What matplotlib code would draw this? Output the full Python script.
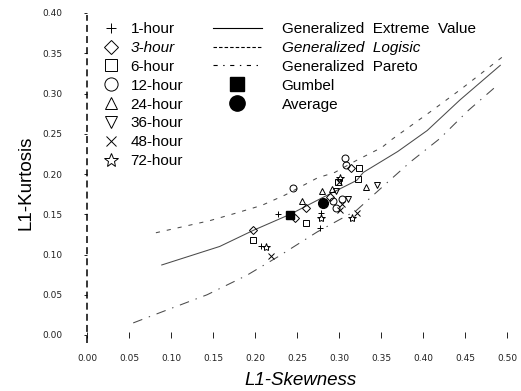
import matplotlib
matplotlib.use("Agg")
import matplotlib.pyplot as plt
from matplotlib.lines import Line2D

plt.rcParams['font.family'] = ['Liberation Sans', 'DejaVu Sans']
plt.rcParams['lines.scale_dashes'] = False

# ---- data ----
durations = ['1-hour', '3-hour', '6-hour', '12-hour', '24-hour', '36-hour', '48-hour', '72-hour']
h1_x = [0.227, 0.207, 0.279, 0.277]
h1_y = [0.150, 0.110, 0.151, 0.133]
h3_x = [0.198, 0.261, 0.314, 0.248, 0.289]
h3_y = [0.130, 0.158, 0.208, 0.145, 0.171]
h6_x = [0.198, 0.261, 0.324, 0.323, 0.299]
h6_y = [0.118, 0.139, 0.207, 0.194, 0.190]
h12_x = [0.245, 0.307, 0.308, 0.293, 0.304, 0.296]
h12_y = [0.182, 0.220, 0.211, 0.167, 0.169, 0.158]
h24_x = [0.256, 0.280, 0.332, 0.292]
h24_y = [0.167, 0.179, 0.184, 0.181]
h36_x = [0.345, 0.311, 0.296]
h36_y = [0.186, 0.169, 0.179]
h48_x = [0.219, 0.300, 0.321, 0.304, 0.301]
h48_y = [0.098, 0.190, 0.151, 0.163, 0.155]
h72_x = [0.213, 0.279, 0.315, 0.301]
h72_y = [0.109, 0.145, 0.145, 0.195]

gumbel_x = [0.242]
gumbel_y = [0.149]
average_x = [0.281]
average_y = [0.164]

gev_x = [0.089, 0.158, 0.198, 0.242, 0.281, 0.321, 0.329, 0.370, 0.405, 0.444, 0.492]
gev_y = [0.087, 0.110, 0.130, 0.150, 0.171, 0.192, 0.202, 0.228, 0.254, 0.292, 0.335]
glo_x = [0.082, 0.146, 0.176, 0.208, 0.236, 0.274, 0.295, 0.321, 0.351, 0.363, 0.411, 0.446, 0.494]
glo_y = [0.127, 0.142, 0.151, 0.161, 0.174, 0.195, 0.202, 0.217, 0.233, 0.243, 0.279, 0.306, 0.345]
gpa_x = [0.055, 0.095, 0.143, 0.190, 0.227, 0.274, 0.321, 0.357, 0.385, 0.420, 0.454, 0.486]
gpa_y = [0.015, 0.031, 0.050, 0.074, 0.097, 0.128, 0.155, 0.189, 0.215, 0.244, 0.279, 0.308]

curve_labels = ['Generalized  Extreme  Value', 'Generalized  Logisic', 'Generalized  Pareto', 'Gumbel', 'Average']
x_ticks = [0.00, 0.05, 0.10, 0.15, 0.20, 0.25, 0.30, 0.35, 0.40, 0.45, 0.50]
y_ticks = [0.00, 0.05, 0.10, 0.15, 0.20, 0.25, 0.30, 0.35, 0.40]

# ---- figure ----
W, H = 521, 391
fig = plt.figure(figsize=(W / 100, H / 100), dpi=100)
ax = fig.add_axes([87 / W, 1 - 335 / H, (507 - 87) / W, (335 - 13) / H])
ax.set_xlim(0, 0.5)
ax.set_ylim(0, 0.4)

lc = '#4a4a4a'
ax.plot(gev_x, gev_y, color=lc, lw=0.75, ls='-')
ax.plot(glo_x, glo_y, color=lc, lw=0.75, dashes=(3, 5))
ax.plot(gpa_x, gpa_y, color=lc, lw=0.75, dashes=(7, 5, 1, 5))

mk = dict(color='black', markerfacecolor='none', linestyle='none', markeredgewidth=0.7)
series = [
    (h1_x, h1_y, '+', 5.0, 6.5),
    (h3_x, h3_y, 'D', 4.0, 7.5),
    (h6_x, h6_y, 's', 5.0, 9.0),
    (h12_x, h12_y, 'o', 5.0, 9.5),
    (h24_x, h24_y, '^', 5.0, 8.0),
    (h36_x, h36_y, 'v', 5.0, 8.0),
    (h48_x, h48_y, 'x', 5.0, 7.0),
    (h72_x, h72_y, '*', 6.0, 10.0),
]
dur_handles = []
for (xs, ys, m, s, ls_), lab in zip(series, durations):
    ax.plot(xs, ys, marker=m, markersize=s, **mk)
    dur_handles.append(Line2D([], [], marker=m, markersize=ls_, **mk))

ax.plot(gumbel_x, gumbel_y, marker='s', markersize=5.5, color='black', linestyle='none')
ax.plot(average_x, average_y, marker='o', markersize=7, color='black', linestyle='none')

# axes styling
for sp in ['top', 'right', 'bottom', 'left']:
    ax.spines[sp].set_visible(False)
ax.plot([0, 0], [-0.01, 0.398], color='black', lw=1.1, dashes=(5, 3), clip_on=False)

ax.set_xticks(x_ticks)
ax.set_xticklabels([f'{v:.2f}' for v in x_ticks])
ax.set_yticks(y_ticks)
ax.set_yticklabels([f'{v:.2f}' for v in y_ticks])
ax.tick_params(axis='x', direction='inout', length=5, width=0.7, pad=11, labelsize=6.5, colors='#222222')
ax.tick_params(axis='y', direction='out', length=2.5, width=0.7, pad=15, labelsize=6.5, colors='#222222')
for t in ax.get_xticklabels() + ax.get_yticklabels():
    t.set_family('DejaVu Sans')

ax.set_xlabel('L1-Skewness', fontsize=13.5, style='italic')
ax.set_ylabel('L1-Kurtosis', fontsize=13.5)
ax.xaxis.set_label_coords((301 - 87) / 420, (335 - 372) / 322)
ax.yaxis.set_label_coords((35 - 87) / 420, (335 - 183) / 322)

# legends
leg1 = ax.legend(dur_handles, durations, loc='upper left', bbox_to_anchor=(100 / W, 1 - 22 / H),
                 bbox_transform=fig.transFigure, frameon=False, fontsize=11,
                 handlelength=1.4, handletextpad=0.6, labelspacing=0.32, borderpad=0, borderaxespad=0)
leg1.get_texts()[1].set_style('italic')
ax.add_artist(leg1)

curve_handles = [
    Line2D([], [], color='black', lw=0.8, ls='-'),
    Line2D([], [], color='black', lw=0.8, dashes=(2.5, 1.5)),
    Line2D([], [], color='black', lw=0.8, dashes=(3, 4, 1, 4)),
    Line2D([], [], marker='s', markersize=10, color='black', linestyle='none'),
    Line2D([], [], marker='o', markersize=11, color='black', linestyle='none'),
]
leg2 = ax.legend(curve_handles, curve_labels, loc='upper left', bbox_to_anchor=(213 / W, 1 - 22 / H),
                 bbox_transform=fig.transFigure, frameon=False, fontsize=11,
                 handlelength=3.2, handletextpad=1.3, labelspacing=0.32, borderpad=0, borderaxespad=0)
leg2.get_texts()[1].set_style('italic')

fig.savefig('out.png', dpi=100)
